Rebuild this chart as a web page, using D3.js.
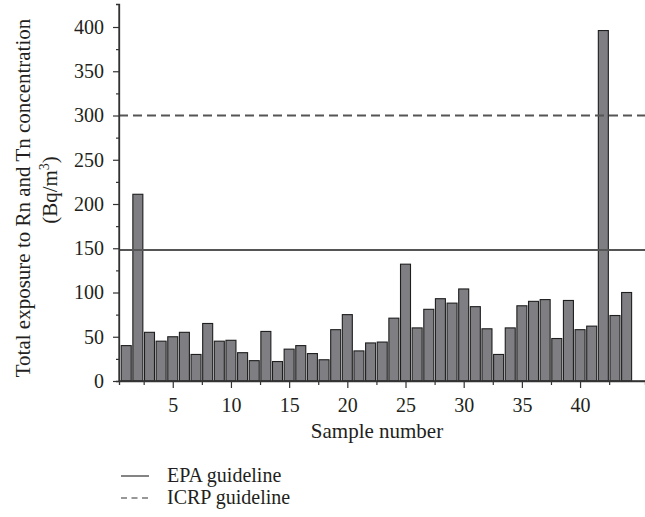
<!DOCTYPE html>
<html>
<head>
<meta charset="utf-8">
<script src="https://cdn.jsdelivr.net/npm/d3@7"></script>
<style>
  body { margin: 0; background: #fff; }
  text { font-family: "Liberation Serif", "DejaVu Serif", serif; fill: #231f20; }
</style>
</head>
<body>
<div id="chart"></div>
<script>
// sample numbers 1..44 and total exposure (Bq/m3)
var samples = d3.range(1, 45);
var exposure = [40, 211, 55, 45, 50, 55, 30, 65, 45, 46,
                32, 23, 56, 22, 36, 40, 31, 24, 58, 75,
                34, 43, 44, 71, 132, 60, 81, 93, 88, 104,
                84, 59, 30, 60, 85, 90, 92, 48, 91, 58,
                62, 396, 74, 100];
var yTicks = [0, 50, 100, 150, 200, 250, 300, 350, 400];
var xTicks = [5, 10, 15, 20, 25, 30, 35, 40];
var guideNames = ["EPA guideline", "ICRP guideline"];
var guideValues = [148, 300];

var w = 645, h = 517;
var mLeft = 119, mBottom = 381, mTop = 4;

var svg = d3.select("#chart").append("svg")
    .attr("width", w).attr("height", h);

var x = d3.scaleLinear().domain([0.38, 45.58]).range([mLeft, w]);
var y = d3.scaleLinear().domain([0, 426]).range([mBottom, mTop]);
var barW = 10;

// bars
svg.selectAll("rect.bar").data(exposure)
  .enter().append("rect")
    .attr("class", "bar")
    .attr("x", function(d, i) { return x(samples[i]) - barW / 2; })
    .attr("y", function(d) { return y(d); })
    .attr("width", barW)
    .attr("height", function(d) { return mBottom - y(d); })
    .style("fill", "#7e7e83")
    .style("stroke", "#1e1e1e")
    .style("stroke-width", 1.1);

// guideline lines
svg.selectAll("line.guide").data(guideValues)
  .enter().append("line")
    .attr("class", "guide")
    .attr("x1", mLeft).attr("x2", w)
    .attr("y1", function(d) { return y(d); })
    .attr("y2", function(d) { return y(d); })
    .style("stroke", "#555")
    .style("stroke-width", 1.8)
    .style("stroke-dasharray", function(d, i) { return i == 1 ? "9,5" : null; });

// y axis
var yAxis = d3.axisLeft(y).tickValues(yTicks).tickSize(6).tickPadding(9);
var gy = svg.append("g").attr("transform", "translate(" + mLeft + ",0)").call(yAxis);
var yMinor = d3.axisLeft(y).tickValues(d3.range(25, 400, 50)).tickSize(3).tickFormat("");
svg.append("g").attr("transform", "translate(" + mLeft + ",0)").call(yMinor);

// x axis
var xAxis = d3.axisBottom(x).tickValues(xTicks).tickSize(7).tickPadding(10);
var gx = svg.append("g").attr("transform", "translate(0," + mBottom + ")").call(xAxis);
var xMinor = d3.axisBottom(x).tickValues(d3.range(2.5, 45, 5)).tickSize(4).tickFormat("");
svg.append("g").attr("transform", "translate(0," + mBottom + ")").call(xMinor);

svg.selectAll("g").attr("font-family", null).attr("font-size", null);
svg.selectAll(".tick text").style("font-size", "20px");
svg.selectAll(".domain").style("stroke", "#333").style("stroke-width", 1.3);
svg.selectAll(".tick line").style("stroke", "#333").style("stroke-width", 1.2);
gy.select(".domain").attr("d", "M0," + mBottom + "V" + mTop);
gx.select(".domain").attr("d", "M" + mLeft + ",0H" + w);

// axis titles
svg.append("text")
    .attr("transform", "translate(30,198) rotate(-90)")
    .attr("text-anchor", "middle")
    .style("font-size", "21px")
    .text("Total exposure to Rn and Tn concentration");
var t2 = svg.append("text")
    .attr("transform", "translate(57,190) rotate(-90)")
    .attr("text-anchor", "middle")
    .style("font-size", "21px");
t2.append("tspan").text("(Bq/m");
t2.append("tspan").attr("dy", -8).style("font-size", "14px").text("3");
t2.append("tspan").attr("dy", 8).text(")");

svg.append("text")
    .attr("x", 377).attr("y", 438)
    .attr("text-anchor", "middle")
    .style("font-size", "21px")
    .text("Sample number");

// legend
var leg = svg.selectAll("g.leg").data(guideNames)
  .enter().append("g")
    .attr("class", "leg")
    .attr("transform", function(d, i) { return "translate(121," + (476 + i * 22) + ")"; });
leg.append("line")
    .attr("x1", 0).attr("x2", 28)
    .style("stroke", "#333")
    .style("stroke-width", 1.2)
    .style("stroke-dasharray", function(d, i) { return i == 1 ? "6,4.5" : null; });
leg.append("text")
    .attr("x", 46).attr("y", 6)
    .style("font-size", "20px")
    .text(function(d) { return d; });
</script>
</body>
</html>
